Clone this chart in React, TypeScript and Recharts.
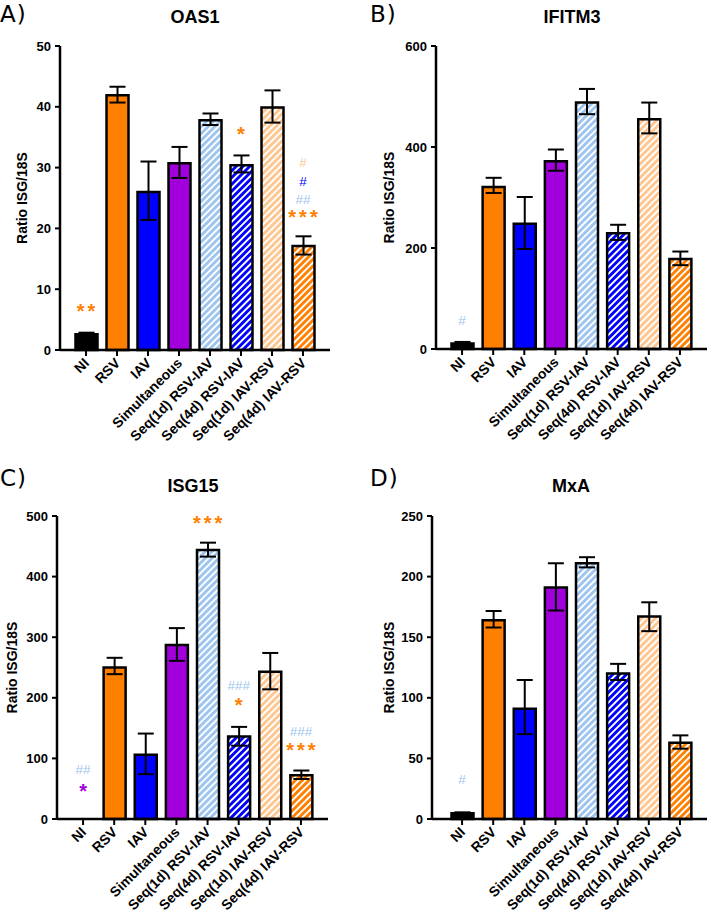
import React from 'react'
import { BarChart, Bar, Cell, XAxis, YAxis, ErrorBar, ReferenceDot } from 'recharts'

const categories = [
  'NI',
  'RSV',
  'IAV',
  'Simultaneous',
  'Seq(1d) RSV-IAV',
  'Seq(4d) RSV-IAV',
  'Seq(1d) IAV-RSV',
  'Seq(4d) IAV-RSV',
]

// OAS1
const oas1Mean = [2.6, 41.9, 26.0, 30.7, 37.8, 30.4, 39.9, 17.1]
const oas1Low = [2.3, 40.7, 21.4, 28.3, 37.0, 29.2, 37.4, 15.7]
const oas1High = [2.85, 43.3, 31.0, 33.4, 38.9, 32.0, 42.7, 18.7]

// IFITM3
const ifitm3Mean = [11, 321, 248, 372, 488, 229, 455, 178]
const ifitm3Low = [8, 309, 198, 353, 465, 216, 427, 166]
const ifitm3High = [14, 339, 301, 395, 515, 246, 488, 193]

// ISG15
const isg15Mean = [0, 250, 106, 287, 444, 136, 243, 72]
const isg15Low = [0, 239, 74, 261, 433, 121, 214, 66]
const isg15High = [0, 266, 141, 315, 456, 152, 274, 80]

// MxA
const mxaMean = [4.7, 164, 91, 191, 211, 120, 167, 63]
const mxaLow = [4.0, 158, 70, 172, 207.6, 114.7, 155, 58]
const mxaHigh = [5.5, 171.6, 114.7, 211, 216, 128, 178.8, 69]

const oas1Ticks = [0, 10, 20, 30, 40, 50]
const ifitm3Ticks = [0, 200, 400, 600]
const isg15Ticks = [0, 100, 200, 300, 400, 500]
const mxaTicks = [0, 50, 100, 150, 200, 250]

// significance marks: group, height (data units), symbol, group compared against
type Mark = { cat: string; y: number; text: string; vs: string }

const oas1Marks: Mark[] = [
  { cat: 'NI', y: 7.1, text: '**', vs: 'RSV' },
  { cat: 'Seq(4d) RSV-IAV', y: 36.2, text: '*', vs: 'RSV' },
  { cat: 'Seq(4d) IAV-RSV', y: 30.9, text: '#', vs: 'Seq(1d) IAV-RSV' },
  { cat: 'Seq(4d) IAV-RSV', y: 27.8, text: '#', vs: 'IAV' },
  { cat: 'Seq(4d) IAV-RSV', y: 24.8, text: '##', vs: 'Seq(1d) RSV-IAV' },
  { cat: 'Seq(4d) IAV-RSV', y: 22.5, text: '***', vs: 'RSV' },
]
const ifitm3Marks: Mark[] = [{ cat: 'NI', y: 57, text: '#', vs: 'Seq(1d) RSV-IAV' }]
const isg15Marks: Mark[] = [
  { cat: 'NI', y: 82, text: '##', vs: 'Seq(1d) RSV-IAV' },
  { cat: 'NI', y: 53, text: '*', vs: 'Simultaneous' },
  { cat: 'Seq(1d) RSV-IAV', y: 495, text: '***', vs: 'RSV' },
  { cat: 'Seq(4d) RSV-IAV', y: 221, text: '###', vs: 'Seq(1d) RSV-IAV' },
  { cat: 'Seq(4d) RSV-IAV', y: 195, text: '*', vs: 'RSV' },
  { cat: 'Seq(4d) IAV-RSV', y: 145, text: '###', vs: 'Seq(1d) RSV-IAV' },
  { cat: 'Seq(4d) IAV-RSV', y: 120, text: '***', vs: 'RSV' },
]
const mxaMarks: Mark[] = [{ cat: 'NI', y: 33, text: '#', vs: 'Seq(1d) RSV-IAV' }]

const ORANGE = '#FF8000'
const BLUE = '#0000FF'
const PURPLE = '#A100DC'
const LIGHT_BLUE = '#9EC5F0'
const LIGHT_ORANGE = '#FFC690'

const groupColor: Record<string, string> = {
  NI: '#000000',
  RSV: ORANGE,
  IAV: BLUE,
  Simultaneous: PURPLE,
  'Seq(1d) RSV-IAV': LIGHT_BLUE,
  'Seq(4d) RSV-IAV': BLUE,
  'Seq(1d) IAV-RSV': LIGHT_ORANGE,
  'Seq(4d) IAV-RSV': ORANGE,
}
const hatched = new Set(['Seq(1d) RSV-IAV', 'Seq(4d) RSV-IAV', 'Seq(1d) IAV-RSV', 'Seq(4d) IAV-RSV'])

const FONT = '"Liberation Sans", Arial, sans-serif'

function XTick(props: any) {
  const { x, y, payload } = props
  const ax = x + 4
  const ay = y + 6
  return (
    <text
      x={ax}
      y={ay}
      transform={`rotate(-45 ${ax} ${ay})`}
      textAnchor="end"
      fontFamily={FONT}
      fontWeight={700}
      fontSize={14}
      fill="#000"
    >
      {payload.value}
    </text>
  )
}

function markLabel(m: Mark) {
  return (p: any) => {
    const vb = p.viewBox
    const cx = vb.x + vb.width / 2
    const cy = vb.y + vb.height / 2
    const star = m.text.startsWith('*')
    return (
      <text
        x={cx + (star ? 1.5 : 0)}
        y={star ? cy + 11 : cy + 5}
        textAnchor="middle"
        fontFamily={FONT}
        fontWeight={star ? 700 : 400}
        fontSize={star ? 20 : 13.5}
        letterSpacing={star ? 3 : 0}
        fill={groupColor[m.vs]}
      >
        {m.text}
      </text>
    )
  }
}

interface PanelProps {
  id: string
  means: number[]
  lows: number[]
  highs: number[]
  ticks: number[]
  marks: Mark[]
  top: number
  bottom: number
  right: number
  axisWidth: number
  padLeft: number
  labelX: number
}

function Panel({ id, means, lows, highs, ticks, marks, top, bottom, right, axisWidth, padLeft, labelX }: PanelProps) {
  const data = categories.map((c, i) => ({
    name: c,
    value: means[i],
    err: [means[i] - lows[i], highs[i] - means[i]],
  }))
  return (
    <BarChart width={354} height={456} data={data} margin={{ top, right, bottom: 0, left: 0 }}>
      <defs>
        {categories.map((c, i) =>
          hatched.has(c) ? (
            <pattern
              key={c}
              id={`${id}-h${i}`}
              patternUnits="userSpaceOnUse"
              width={4.8}
              height={4.8}
              patternTransform="rotate(45)"
            >
              <rect x={0} y={0} width={4.8} height={4.8} fill="#fff" />
              <rect x={0} y={0} width={2.6} height={4.8} fill={groupColor[c]} shapeRendering="crispEdges" />
            </pattern>
          ) : null
        )}
      </defs>
      <XAxis
        dataKey="name"
        interval={0}
        height={bottom}
        padding={{ left: padLeft, right: 11.5 }}
        axisLine={{ stroke: '#000', strokeWidth: 2.5 }}
        tickLine={{ stroke: '#000', strokeWidth: 2 }}
        tickSize={6}
        tickMargin={2}
        tick={<XTick />}
      />
      <YAxis
        type="number"
        domain={[ticks[0], ticks[ticks.length - 1]]}
        ticks={ticks}
        interval={0}
        width={axisWidth}
        axisLine={{ stroke: '#000', strokeWidth: 2.5 }}
        tickLine={{ stroke: '#000', strokeWidth: 2 }}
        tickSize={5}
        tickMargin={4}
        tick={{ fontFamily: FONT, fontWeight: 700, fontSize: 13, fill: '#000' }}
        label={{
          content: (p: any) => {
            const vb = p.viewBox
            const lx = vb.x + labelX
            const ly = vb.y + vb.height / 2
            return (
              <text
                x={lx}
                y={ly}
                transform={`rotate(-90 ${lx} ${ly})`}
                textAnchor="middle"
                dominantBaseline="central"
                fontFamily={FONT}
                fontWeight={700}
                fontSize={14}
                fill="#000"
              >
                Ratio ISG/18S
              </text>
            )
          },
        }}
      />
      <Bar dataKey="value" barSize={22} stroke="#000" strokeWidth={2.5} isAnimationActive={false}>
        {categories.map((c, i) => (
          <Cell key={c} fill={hatched.has(c) ? `url(#${id}-h${i})` : groupColor[c]} />
        ))}
        <ErrorBar dataKey="err" width={8} stroke="#000" strokeWidth={2} isAnimationActive={false} />
      </Bar>
      {marks.map((m, i) => (
        <ReferenceDot
          key={i}
          x={m.cat}
          y={m.y}
          r={1}
          fill="none"
          stroke="none"
          ifOverflow="visible"
          label={{ content: markLabel(m) }}
        />
      ))}
    </BarChart>
  )
}

const panelBox = (left: number, top: number): React.CSSProperties => ({
  position: 'absolute',
  left,
  top,
  width: 354,
  height: 456,
})

export default function App() {
  return (
    <div
      style={{
        position: 'absolute',
        left: 0,
        top: 0,
        width: 708,
        height: 912,
        background: '#fff',
        overflow: 'hidden',
      }}
    >
      <div style={panelBox(0, 0)}>
        <Panel id="oas1" means={oas1Mean} lows={oas1Low} highs={oas1High} ticks={oas1Ticks} marks={oas1Marks}
          top={46} bottom={106} right={24} axisWidth={60} padLeft={10.5} labelX={22} />
      </div>
      <div style={panelBox(354, 0)}>
        <Panel id="ifitm3" means={ifitm3Mean} lows={ifitm3Low} highs={ifitm3High} ticks={ifitm3Ticks} marks={ifitm3Marks}
          top={46} bottom={107} right={1} axisWidth={82} padLeft={10.5} labelX={35} />
      </div>
      <div style={panelBox(0, 456)}>
        <Panel id="isg15" means={isg15Mean} lows={isg15Low} highs={isg15High} ticks={isg15Ticks} marks={isg15Marks}
          top={60} bottom={93} right={26} axisWidth={57} padLeft={10.5} labelX={12} />
      </div>
      <div style={panelBox(354, 456)}>
        <Panel id="mxa" means={mxaMean} lows={mxaLow} highs={mxaHigh} ticks={mxaTicks} marks={mxaMarks}
          top={60} bottom={93} right={1} axisWidth={78} padLeft={14.5} labelX={35} />
      </div>
      <svg width={708} height={912} style={{ position: 'absolute', left: 0, top: 0, pointerEvents: 'none' }}>
        <g fontFamily='"DejaVu Sans", sans-serif' fontSize={23} fill="#000" letterSpacing={1}>
          <text x={0} y={22}>A)</text>
          <text x={370} y={22}>B)</text>
          <text x={0} y={486}>C)</text>
          <text x={370} y={486}>D)</text>
        </g>
        <g fontFamily={FONT} fontWeight={700} fontSize={18} fill="#000" textAnchor="middle">
          <text x={195} y={23}>OAS1</text>
          <text x={572} y={23}>IFITM3</text>
          <text x={193} y={492}>ISG15</text>
          <text x={571} y={492}>MxA</text>
        </g>
      </svg>
    </div>
  )
}
